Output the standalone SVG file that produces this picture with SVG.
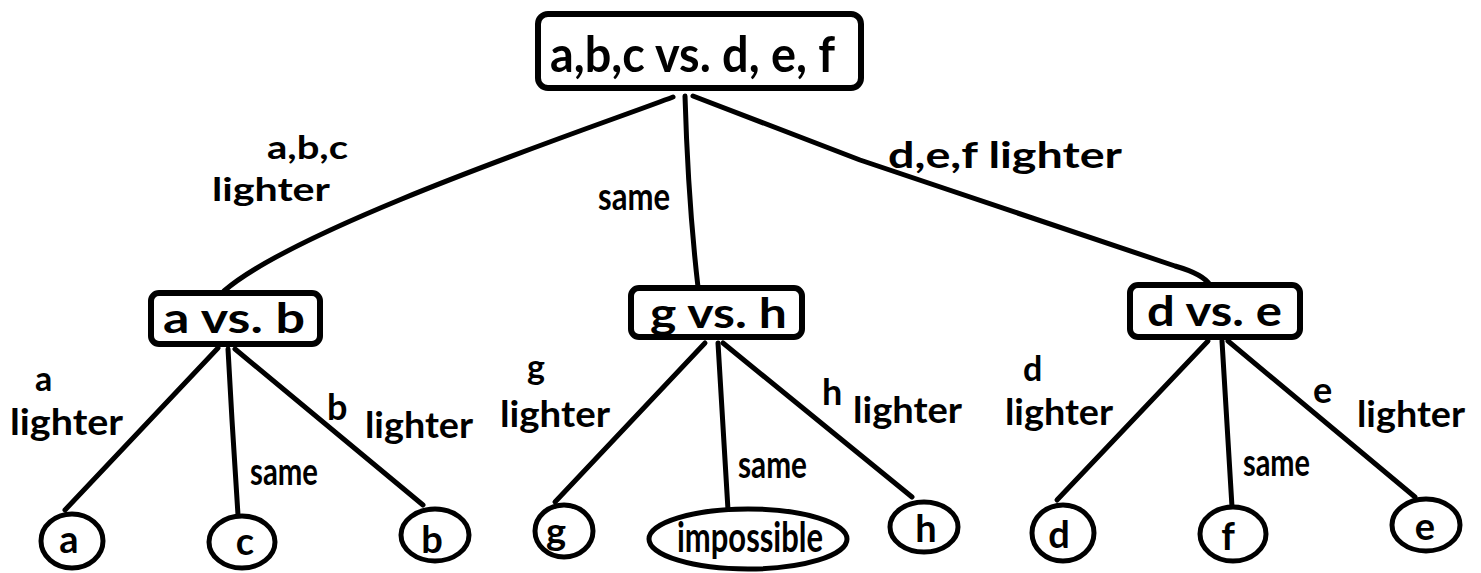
<svg xmlns="http://www.w3.org/2000/svg" width="1481" height="573" viewBox="0 0 1481 573">
<style>
  .box{fill:#fff;stroke:#000;stroke-width:6;}
  .leaf{fill:#fff;stroke:#000;stroke-width:5;}
  .edge{fill:none;stroke:#000;stroke-width:5;stroke-linecap:round;stroke-linejoin:round;}
  text{font-family:Lato,"Liberation Sans",sans-serif;font-weight:700;fill:#000;}
  .big{font-size:50px;}
  .mid{font-size:42px;}
  .lbl{font-size:36px;}
  .top{font-size:32px;}
  .same{font-size:38px;}
  .sm{font-size:34px;}
  .in{font-size:38px;text-anchor:middle;}
</style>
<rect width="1481" height="573" fill="#fff"/>
<g id="connectors">
  <path class="edge" d="M673 97 C600 125 300 225 224 291"/>
  <path class="edge" d="M685 96 Q688 200 698 287"/>
  <path class="edge" d="M693 96 L860 160 L1175 266 Q1203 274 1210 285"/>
  <path class="edge" d="M218 348 L65 510"/>
  <path class="edge" d="M228 349 L232 420 L238 515"/>
  <path class="edge" d="M235 349 L423 505"/>
  <path class="edge" d="M705 343 L555 502"/>
  <path class="edge" d="M718 343 L728 510"/>
  <path class="edge" d="M723 343 L912 497"/>
  <path class="edge" d="M1208 341 L1057 500"/>
  <path class="edge" d="M1222 341 L1232 507"/>
  <path class="edge" d="M1228 341 L1415 497"/>
</g>
<g id="edge-labels">
  <text class="top" x="267" y="159" textLength="81" lengthAdjust="spacingAndGlyphs">a,b,c</text>
  <text class="top" x="212" y="201" textLength="118" lengthAdjust="spacingAndGlyphs">lighter</text>
  <text class="same" x="598" y="210" textLength="72" lengthAdjust="spacingAndGlyphs">same</text>
  <text class="lbl" x="888" y="168" textLength="234" lengthAdjust="spacingAndGlyphs">d,e,f lighter</text>
  <text class="sm" x="35" y="391">a</text>
  <text class="lbl" x="10" y="435" textLength="113" lengthAdjust="spacingAndGlyphs">lighter</text>
  <text class="same" x="250" y="485" textLength="68" lengthAdjust="spacingAndGlyphs">same</text>
  <text class="lbl" x="327" y="420">b<tspan x="365" y="438" textLength="108" lengthAdjust="spacingAndGlyphs">lighter</tspan></text>
  <text class="sm" x="527" y="379">g</text>
  <text class="lbl" x="500" y="427" textLength="110" lengthAdjust="spacingAndGlyphs">lighter</text>
  <text class="same" x="738" y="478" textLength="69" lengthAdjust="spacingAndGlyphs">same</text>
  <text class="lbl" x="822" y="405">h<tspan x="853" y="423" textLength="109" lengthAdjust="spacingAndGlyphs">lighter</tspan></text>
  <text class="sm" x="1023" y="381">d</text>
  <text class="lbl" x="1005" y="425" textLength="108" lengthAdjust="spacingAndGlyphs">lighter</text>
  <text class="same" x="1243" y="476" textLength="67" lengthAdjust="spacingAndGlyphs">same</text>
  <text class="lbl" x="1313" y="403">e<tspan x="1357" y="427" textLength="108" lengthAdjust="spacingAndGlyphs">lighter</tspan></text>
</g>
<g id="root">
  <rect class="box" x="538" y="14" width="323" height="74" rx="10"/>
  <text class="big" x="550" y="72" textLength="285" lengthAdjust="spacingAndGlyphs">a,b,c vs. d, e, f</text>
</g>
<g id="a-vs-b">
  <rect class="box" x="151" y="293" width="169" height="51" rx="8"/>
  <text class="mid" x="163" y="333" textLength="142" lengthAdjust="spacingAndGlyphs">a vs. b</text>
</g>
<g id="g-vs-h">
  <rect class="box" x="631" y="288" width="171" height="49" rx="8"/>
  <text class="mid" x="650" y="328" textLength="137" lengthAdjust="spacingAndGlyphs">g vs. h</text>
</g>
<g id="d-vs-e">
  <rect class="box" x="1130" y="285" width="170" height="52" rx="8"/>
  <text class="mid" x="1147" y="326" textLength="135" lengthAdjust="spacingAndGlyphs">d vs. e</text>
</g>
<g id="leaf-a"><ellipse class="leaf" cx="72" cy="541" rx="31" ry="27"/><text class="in" x="69" y="553">a</text></g>
<g id="leaf-c"><ellipse class="leaf" cx="242" cy="542" rx="33" ry="26"/><text class="in" x="245" y="555">c</text></g>
<g id="leaf-b"><ellipse class="leaf" cx="435" cy="535" rx="34" ry="26"/><text class="in" x="432" y="553">b</text></g>
<g id="leaf-g"><ellipse class="leaf" cx="564" cy="531" rx="29" ry="26"/><text class="in" x="556" y="545">g</text></g>
<g id="leaf-impossible"><ellipse class="leaf" cx="748" cy="539" rx="99" ry="30"/><text class="mid" x="677" y="552" textLength="146" lengthAdjust="spacingAndGlyphs">impossible</text></g>
<g id="leaf-h"><ellipse class="leaf" cx="924" cy="527" rx="34" ry="25"/><text class="in" x="926" y="542">h</text></g>
<g id="leaf-d"><ellipse class="leaf" cx="1063" cy="533" rx="31" ry="28"/><text class="in" x="1059" y="548">d</text></g>
<g id="leaf-f"><ellipse class="leaf" cx="1233" cy="534" rx="33" ry="27"/><text class="in" x="1228" y="550">f</text></g>
<g id="leaf-e"><ellipse class="leaf" cx="1426" cy="525" rx="34" ry="26"/><text class="in" x="1425" y="540">e</text></g>
</svg>
